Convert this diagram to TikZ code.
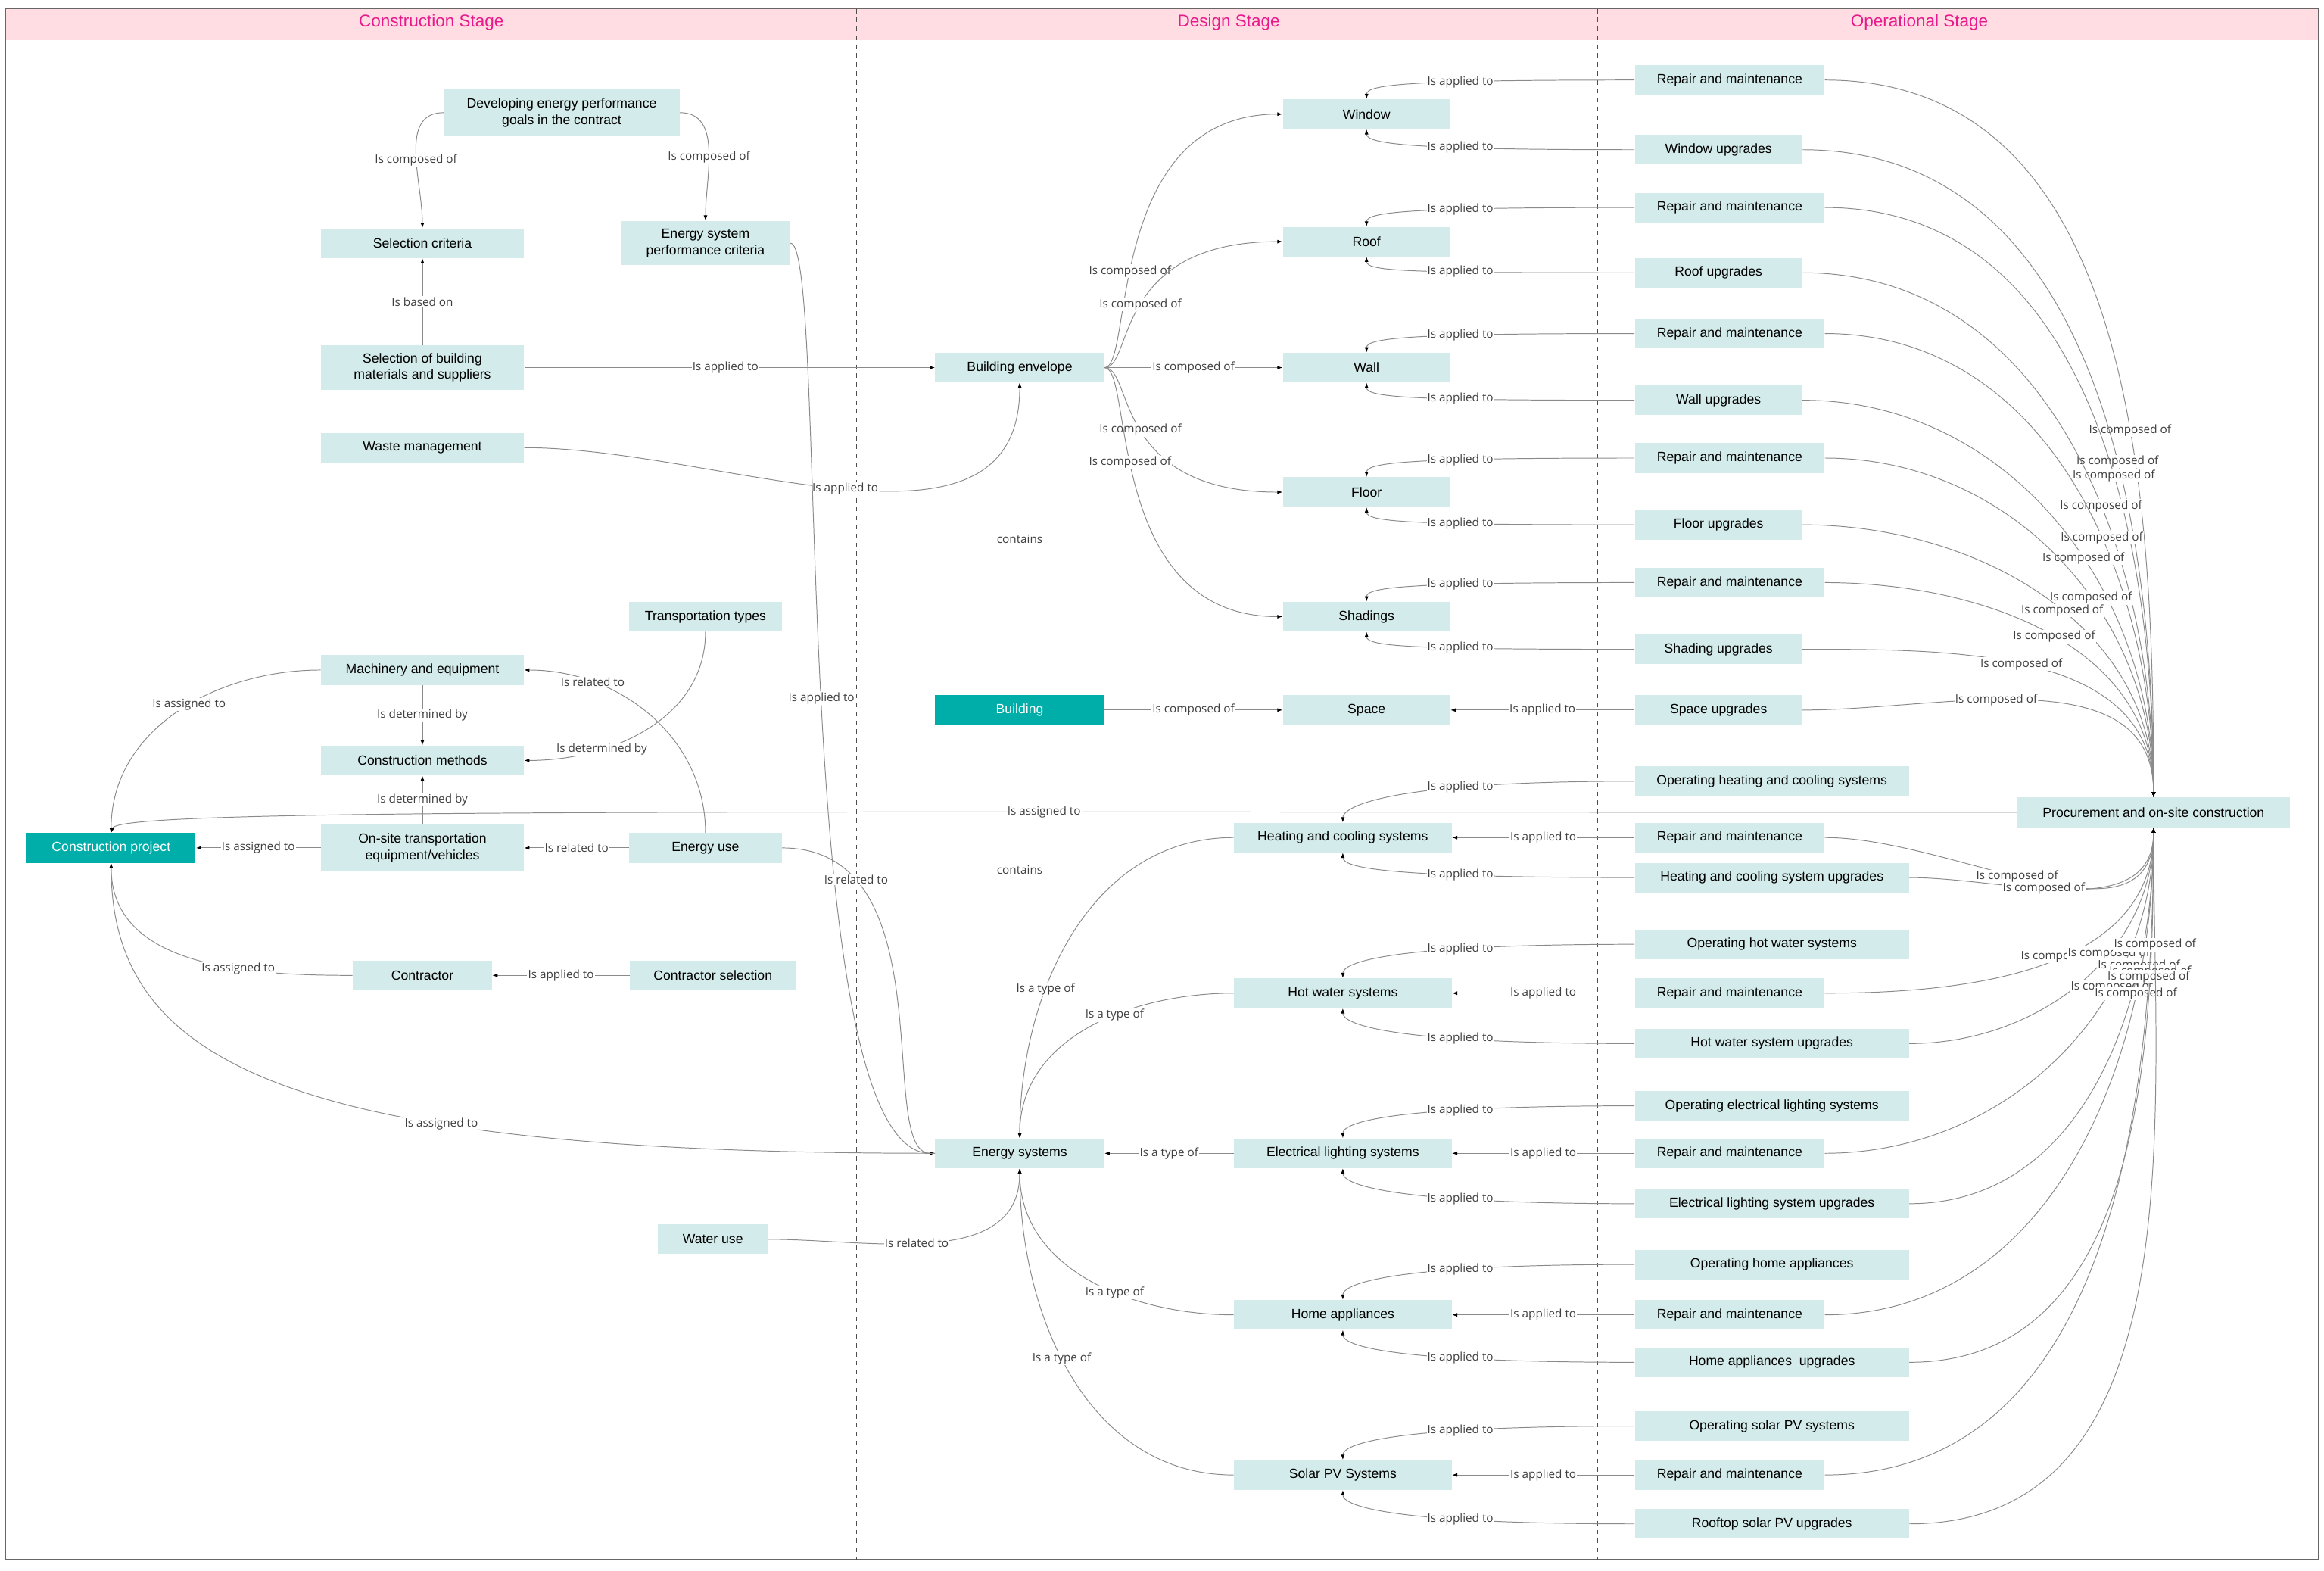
\documentclass[tikz,border=0pt]{standalone}
\usepackage{fontspec}
\setmainfont{Liberation Sans}
\newfontfamily\lblf{Open Sans}
\usetikzlibrary{arrows.meta}
\definecolor{boxc}{HTML}{D3EBEA}
\definecolor{tealc}{HTML}{00AEA9}
\definecolor{hdr}{HTML}{FFDDE3}
\definecolor{hdrt}{HTML}{E8198B}
\definecolor{lnc}{HTML}{8A8A8A}
\begin{document}
\begin{tikzpicture}[x=1pt,y=-1pt,
 box/.style={fill=boxc,minimum height=20pt,inner sep=1.5pt,align=center,font=\fontsize{9}{11}\selectfont},
 tbox/.style={box,fill=tealc,text=white},
 lbl/.style={font=\lblf\fontsize{7.8}{9}\selectfont,text=black!75,fill=white,inner sep=0.6pt},
 arr/.style={draw=lnc,line width=0.5pt,-{Latex[length=3.5pt,width=2.6pt,color=black]}},
 hd/.style={font=\fontsize{11.5}{13}\selectfont,text=hdrt}]
\useasboundingbox (0,0) rectangle (1568,1059.3);
% frame and header
\fill[hdr] (4,6) rectangle (1564,27);
\draw[black!60,line width=0.6pt] (4,6) rectangle (1564,1052);
\draw[black!70,dashed,line width=0.6pt] (578,6) -- (578,1052) (1078,6) -- (1078,1052);
\node[hd] (h1) at (291,15) {Construction Stage};
\node[hd] (h2) at (829,15) {Design Stage};
\node[hd] (h3) at (1295,15) {Operational Stage};
% construction nodes
\node[box,minimum width=159pt,minimum height=32pt] (dev) at (379,76) {Developing energy performance\\goals in the contract};
\node[box,minimum width=137pt] (selc) at (285,164) {Selection criteria};
\node[box,minimum width=114pt,minimum height=30pt] (esc) at (476,164) {Energy system\\performance criteria};
\node[box,minimum width=137pt,minimum height=30pt] (selb) at (285,248) {Selection of building\\materials and suppliers};
\node[box,minimum width=137pt] (waste) at (285,302) {Waste management};
\node[box,minimum width=103pt] (trt) at (476,416) {Transportation types};
\node[box,minimum width=137pt] (mach) at (285,452) {Machinery and equipment};
\node[box,minimum width=137pt] (cm) at (285,513) {Construction methods};
\node[box,minimum width=137pt,minimum height=32pt] (ons) at (285,572) {On-site transportation\\equipment/vehicles};
\node[tbox,minimum width=114pt] (cp) at (75,572) {Construction project};
\node[box,minimum width=103pt] (eu) at (476,572) {Energy use};
\node[box,minimum width=94pt] (con) at (285,658) {Contractor};
\node[box,minimum width=112pt] (cs) at (481,658) {Contractor selection};
\node[box,minimum width=74pt] (wu) at (481,836) {Water use};
% design nodes
\node[box,minimum width=114pt] (be) at (688,248) {Building envelope};
\node[box,minimum width=113pt] (win) at (922,77) {Window};
\node[box,minimum width=113pt] (roof) at (922,163) {Roof};
\node[box,minimum width=113pt] (wall) at (922,248) {Wall};
\node[box,minimum width=113pt] (floor) at (922,332) {Floor};
\node[box,minimum width=113pt] (shad) at (922,416) {Shadings};
\node[tbox,minimum width=114pt] (bld) at (688,479) {Building};
\node[box,minimum width=113pt] (spc) at (922,479) {Space};
\node[box,minimum width=147pt] (heat) at (906,565) {Heating and cooling systems};
\node[box,minimum width=147pt] (hot) at (906,670) {Hot water systems};
\node[box,minimum width=114pt] (es) at (688,778) {Energy systems};
\node[box,minimum width=147pt] (elec) at (906,778) {Electrical lighting systems};
\node[box,minimum width=147pt] (home) at (906,887) {Home appliances};
\node[box,minimum width=147pt] (sol) at (906,995) {Solar PV Systems};
% operational nodes
\foreach \n/\y/\t in {rw/54/Repair and maintenance,rr/140/Repair and maintenance,rwa/225/Repair and maintenance,rf/309/Repair and maintenance,rs/393/Repair and maintenance,rh/565/Repair and maintenance,rhw/670/Repair and maintenance,re/778/Repair and maintenance,ra/887/Repair and maintenance,rs2/995/Repair and maintenance}
  \node[box,minimum width=128pt] (\n) at (1167,\y) {\t};
\foreach \n/\y/\t in {uw/101/Window upgrades,ur/184/Roof upgrades,uwa/270/Wall upgrades,uf/354/Floor upgrades,us/438/Shading upgrades,usp/479/Space upgrades}
  \node[box,minimum width=113pt] (\n) at (1159.5,\y) {\t};
\foreach \n/\y/\t in {oh/527/Operating heating and cooling systems,uh/592/Heating and cooling system upgrades,ohw/637/Operating hot water systems,uhw/704/Hot water system upgrades,oe/746/Operating electrical lighting systems,ue/812/Electrical lighting system upgrades,oa/853/Operating home appliances,ua/919/Home appliances\ \ upgrades,os/962/Operating solar PV systems,us2/1028/Rooftop solar PV upgrades}
  \node[box,minimum width=185pt] (\n) at (1195.5,\y) {\t};
\node[box,minimum width=184pt] (proc) at (1453,548) {Procurement and on-site construction};
% construction edges
\draw[arr] (dev.west) to[out=180,in=90] node[lbl,pos=0.55]{Is composed of} (selc.north);
\draw[arr] (dev.east) to[out=0,in=90] node[lbl,pos=0.55]{Is composed of} (esc.north);
\draw[arr] (selb) -- node[lbl]{Is based on} (selc);
\draw[arr] (selb) -- node[lbl,pos=0.49]{Is applied to} (be);
\draw[arr] (waste.east) to[out=0,in=-90] node[lbl,pos=0.5]{Is applied to} (be.south);
\draw[arr] (esc.east) .. controls (560,164) and (530,778) .. node[lbl,pos=0.5]{Is applied to} (es.west);
\draw[arr] (mach.west) to[out=180,in=90] node[lbl,pos=0.45]{Is assigned to} (cp.north);
\draw[arr] (mach) -- node[lbl]{Is determined by} (cm);
\draw[arr] (trt.south) to[out=-90,in=0] node[lbl,pos=0.7]{Is determined by} (cm.east);
\draw[arr] (ons) -- node[lbl]{Is determined by} (cm);
\draw[arr] (ons) -- node[lbl]{Is assigned to} (cp);
\draw[arr] (eu) -- node[lbl]{Is related to} (ons);
\draw[arr] (eu.north) to[out=90,in=0] node[lbl,pos=0.75]{Is related to} (mach.east);
\draw[arr] (eu.east) .. controls (640,572) and (590,778) .. node[lbl,pos=0.2]{Is related to} (es.west);
\draw[arr] (con.west) to[out=180,in=-90] node[lbl,pos=0.35]{Is assigned to} (cp.south);
\draw[arr] (cs) -- node[lbl]{Is applied to} (con);
\draw[arr] (es.west) .. controls (200,778) and (75,720) .. node[lbl,pos=0.33]{Is assigned to} (cp.south);
\draw[arr] (proc.west) .. controls (500,548) and (80,545) .. node[lbl,pos=0.3]{Is assigned to} (cp.north);
\draw[arr] (wu.east) to[out=0,in=-90] node[lbl,pos=0.45]{Is related to} (es.south);
% design edges
\draw[arr] (be.east) .. controls (765,248) and (745,77) .. node[lbl,pos=0.42]{Is composed of} (win.west);
\draw[arr] (be.east) .. controls (765,248) and (750,163) .. node[lbl,pos=0.5]{Is composed of} (roof.west);
\draw[arr] (be) -- node[lbl,pos=0.5]{Is composed of} (wall);
\draw[arr] (be.east) .. controls (765,248) and (750,332) .. node[lbl,pos=0.5]{Is composed of} (floor.west);
\draw[arr] (be.east) .. controls (765,248) and (745,416) .. node[lbl,pos=0.42]{Is composed of} (shad.west);
\draw[arr] (bld) -- node[lbl]{contains} (be);
\draw[arr] (bld) -- node[lbl]{Is composed of} (spc);
\draw[arr] (bld) -- node[lbl,pos=0.35]{contains} (es);
\draw[arr] (heat.west) to[out=180,in=90] node[lbl,pos=0.65]{Is a type of} (es.north);
\draw[arr] (hot.west) to[out=180,in=90] node[lbl,pos=0.4]{Is a type of} (es.north);
\draw[arr] (elec) -- node[lbl]{Is a type of} (es);
\draw[arr] (home.west) to[out=180,in=-90] node[lbl,pos=0.4]{Is a type of} (es.south);
\draw[arr] (sol.west) to[out=180,in=-90] node[lbl,pos=0.55]{Is a type of} (es.south);
% operational -> design
\foreach \r/\u/\s in {rw/uw/win,rr/ur/roof,rwa/uwa/wall,rf/uf/floor,rs/us/shad}{
  \draw[arr] (\r.west) .. controls +(-150,0) and +(0,-10) .. node[lbl,pos=0.35]{Is applied to} (\s.north);
  \draw[arr] (\u.west) .. controls +(-150,0) and +(0,10) .. node[lbl,pos=0.35]{Is applied to} (\s.south);}
\draw[arr] (usp) -- node[lbl]{Is applied to} (spc);
\foreach \o/\r/\u/\s in {oh/rh/uh/heat,ohw/rhw/uhw/hot,oe/re/ue/elec,oa/ra/ua/home,os/rs2/us2/sol}{
  \draw[arr] (\o.west) .. controls +(-170,0) and +(0,-10) .. node[lbl,pos=0.3]{Is applied to} (\s.north);
  \draw[arr] (\r) -- node[lbl]{Is applied to} (\s);
  \draw[arr] (\u.west) .. controls +(-170,0) and +(0,10) .. node[lbl,pos=0.3]{Is applied to} (\s.south);}
% operational -> procurement
\foreach \n/\p in {rw/0.62,uw/0.62,rr/0.6,ur/0.6,rwa/0.6,uwa/0.58,rf/0.6,uf/0.55,rs/0.52,us/0.47,usp/0.42}
  \draw[arr] (\n.east) to[out=0,in=90] node[lbl,pos=\p]{Is composed of} (proc.north);
\foreach \n/\p in {rh/0.45,uh/0.42,rhw/0.55,uhw/0.62,re/0.68,ue/0.74,ra/0.76,ua/0.8,rs2/0.83,us2/0.87}
  \draw[arr] (\n.east) to[out=0,in=-90] node[lbl,pos=\p]{Is composed of} (proc.south);
\end{tikzpicture}
\end{document}
